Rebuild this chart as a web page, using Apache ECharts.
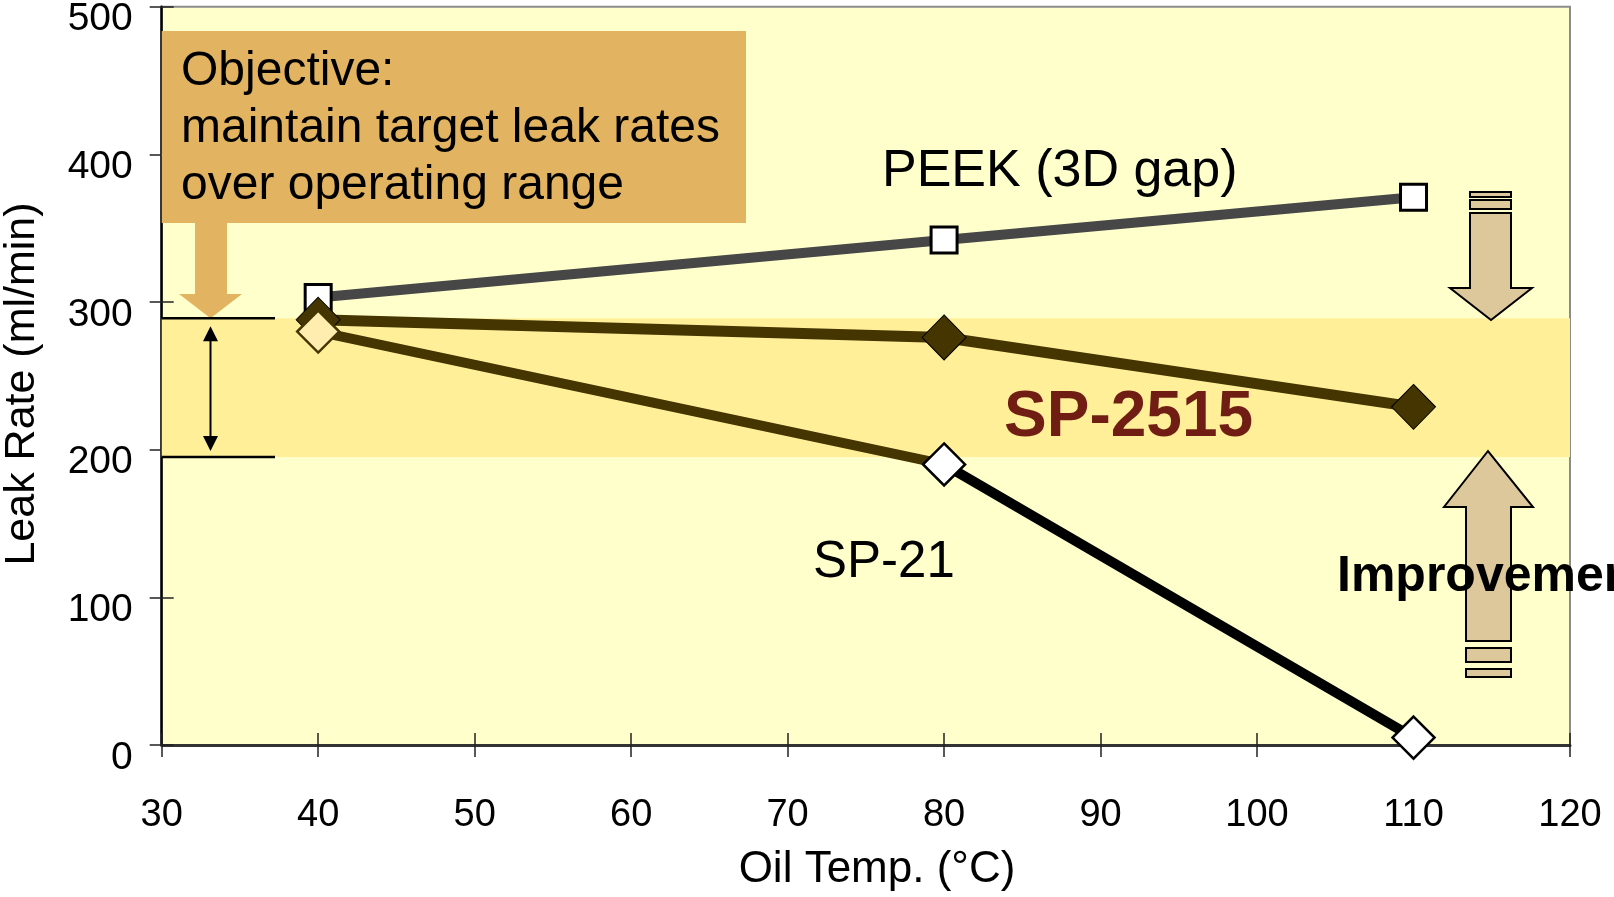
<!DOCTYPE html>
<html>
<head>
<meta charset="utf-8">
<title>Leak Rate vs Oil Temp</title>
<script src="https://cdn.jsdelivr.net/npm/echarts@6/dist/echarts.min.js"></script>
<style>
  html, body { margin: 0; padding: 0; background: #fff; }
  #chart { width: 1614px; height: 897px; }
</style>
</head>
<body>
<div id="chart"></div>
<script>
// values
const temps = [40, 80, 110];
const peek = [303, 342, 371];
const sp2515 = [288, 276, 229];
const sp21 = [280, 190, 5];
const targetBand = [195, 289];
const xRange = [30, 120, 10];
const yRange = [0, 500, 100];

const FONT = '"Liberation Sans", Arial, sans-serif';
const BROWN = '#453500';
const TAN = '#dcc89a';
const ORANGE = '#e2b461';

const pts = vals => vals.map((v, i) => [temps[i], v]);

// SP-21 changes colour at its middle point
const split = (temps[1] - temps[0]) / (temps[2] - temps[0]);
const sp21Line = new echarts.graphic.LinearGradient(0, 0, 1, 0, [
    { offset: 0, color: BROWN },
    { offset: split, color: BROWN },
    { offset: split, color: '#000' },
    { offset: 1, color: '#000' },
]);

const chart = echarts.init(document.getElementById('chart'));

const xBase = {
    type: 'value', min: xRange[0], max: xRange[1], interval: xRange[2],
    position: 'bottom',
    splitLine: { show: false },
};
const yBase = {
    type: 'value', min: yRange[0], max: yRange[1], interval: yRange[2],
    position: 'left',
    splitLine: { show: false },
};

chart.setOption({
    animation: false,
    backgroundColor: '#fff',
    grid: {
        left: 161.7, right: 44, top: 6.7, bottom: 152,
        show: true, backgroundColor: '#ffffcc',
        borderColor: '#8c8c8c', borderWidth: 2,
    },
    xAxis: [
        Object.assign({}, xBase, {
            axisLine: { lineStyle: { color: '#333', width: 3 } },
            axisTick: { length: 12, lineStyle: { color: '#222', width: 1.5 } },
            axisLabel: { fontFamily: FONT, fontSize: 38, color: '#000', margin: 52 },
        }),
        Object.assign({}, xBase, {
            axisLine: { show: false },
            axisTick: { inside: true, length: 12, lineStyle: { color: '#222', width: 1.5 } },
            axisLabel: { show: false },
        }),
    ],
    yAxis: [
        Object.assign({}, yBase, {
            axisLine: { lineStyle: { color: '#000', width: 2.5 } },
            axisTick: { length: 12, lineStyle: { color: '#222', width: 1.5 } },
            axisLabel: {
                fontFamily: FONT, fontSize: 39, color: '#000', margin: 29,
                verticalAlign: 'top', lineHeight: 26,
            },
        }),
        Object.assign({}, yBase, {
            axisLine: { show: false },
            axisTick: { inside: true, length: 12, lineStyle: { color: '#222', width: 1.5 } },
            axisLabel: { show: false },
        }),
    ],
    series: [
        {
            name: 'target',
            type: 'line',
            data: [],
            z: 1,
            silent: true,
            markArea: {
                silent: true,
                itemStyle: { color: '#ffef99', opacity: 1 },
                data: [[{ yAxis: targetBand[1] }, { yAxis: targetBand[0] }]],
            },
        },
        {
            name: 'PEEK (3D gap)',
            type: 'line',
            z: 3,
            data: pts(peek),
            symbol: 'rect',
            symbolSize: 26,
            lineStyle: { color: '#474747', width: 10 },
            itemStyle: { color: '#fff', borderColor: '#000', borderWidth: 3 },
        },
        {
            name: 'SP-2515',
            type: 'line',
            z: 4,
            data: pts(sp2515),
            symbol: 'diamond',
            symbolSize: [44, 45],
            lineStyle: { color: BROWN, width: 11 },
            itemStyle: { color: BROWN, borderColor: '#000', borderWidth: 1 },
        },
        {
            name: 'SP-21',
            type: 'line',
            z: 5,
            data: pts(sp21).map((p, i) => i === 0
                ? { value: p, itemStyle: { color: '#ffedb0', borderColor: BROWN } }
                : { value: p }),
            symbol: 'diamond',
            symbolSize: 42,
            lineStyle: { color: sp21Line, width: 10 },
            itemStyle: { color: '#fff', borderColor: '#000', borderWidth: 2.5 },
        },
    ],
});

// annotations
const px = (x, y) => chart.convertToPixel({ gridIndex: 0 }, [x, y]);
const bandTop = px(xRange[0], targetBand[1]);
const bandBot = px(xRange[0], targetBand[0]);

function txt(x, y, text, size, opts) {
    return {
        type: 'text', x: x, y: y, z: 50,
        style: Object.assign({
            text: text, fontFamily: FONT, fontSize: size, fill: '#000',
            align: 'left', verticalAlign: 'middle',
        }, opts || {}),
    };
}

function arrowPoly(pts, fill) {
    return {
        type: 'polygon', z: 40,
        shape: { points: pts },
        style: { fill: fill, stroke: '#000', lineWidth: 2 },
    };
}

function bar(x, y, w, h) {
    return {
        type: 'rect', z: 40,
        shape: { x: x, y: y, width: w, height: h },
        style: { fill: TAN, stroke: '#000', lineWidth: 2 },
    };
}

const L = bandTop[0];
chart.setOption({
    graphic: [
        // axis titles
        Object.assign(txt(877, 870, 'Oil Temp. (°C)', 44, { align: 'center' })),
        Object.assign(txt(22, 384, 'Leak Rate (ml/min)', 43, { align: 'center' }), { rotation: Math.PI / 2 }),

        // objective box and its arrow
        { type: 'rect', z: 30, shape: { x: L, y: 31, width: 746 - L, height: 192 }, style: { fill: ORANGE } },
        {
            type: 'polygon', z: 30,
            shape: { points: [[195, 222], [227, 222], [227, 294], [242, 294], [210.5, bandTop[1]], [179, 294], [195, 294]] },
            style: { fill: ORANGE },
        },
        {
            type: 'text', x: 181, y: 43, z: 50,
            style: {
                text: 'Objective:\nmaintain target leak rates\nover operating range',
                fontFamily: FONT, fontSize: 48, lineHeight: 57, fill: '#000',
                align: 'left', verticalAlign: 'top',
            },
        },
        // target range marker lines
        { type: 'line', z: 45, shape: { x1: L, y1: bandTop[1], x2: 275, y2: bandTop[1] }, style: { stroke: '#000', lineWidth: 2.5 } },
        { type: 'line', z: 45, shape: { x1: L, y1: bandBot[1], x2: 275, y2: bandBot[1] }, style: { stroke: '#000', lineWidth: 2.5 } },
        { type: 'line', z: 45, shape: { x1: 210.5, y1: bandTop[1] + 20, x2: 210.5, y2: bandBot[1] - 20 }, style: { stroke: '#000', lineWidth: 2 } },
        { type: 'polygon', z: 45, shape: { points: [[210.5, bandTop[1] + 8], [218, bandTop[1] + 23], [203, bandTop[1] + 23]] }, style: { fill: '#000' } },
        { type: 'polygon', z: 45, shape: { points: [[210.5, bandBot[1] - 6], [218, bandBot[1] - 21], [203, bandBot[1] - 21]] }, style: { fill: '#000' } },

        // series labels
        txt(882, 172, 'PEEK (3D gap)', 52),
        txt(1004, 418, 'SP-2515', 64, { fontWeight: 'bold', fill: '#701e14' }),
        txt(813, 563, 'SP-21', 51),

        // improvement arrows
        bar(1470, 192, 41, 5),
        bar(1470, 200, 41, 9),
        arrowPoly([[1470, 213], [1511, 213], [1511, 288], [1532, 288], [1491, 320], [1450, 288], [1470, 288]], TAN),
        arrowPoly([[1466, 641], [1466, 507], [1444, 507], [1488, 451], [1533, 507], [1511, 507], [1511, 641]], TAN),
        bar(1466, 648, 45, 14),
        bar(1466, 669, 45, 8),
        txt(1337, 577, 'Improvement', 50, { fontWeight: 'bold' }),
    ],
});
</script>
</body>
</html>
